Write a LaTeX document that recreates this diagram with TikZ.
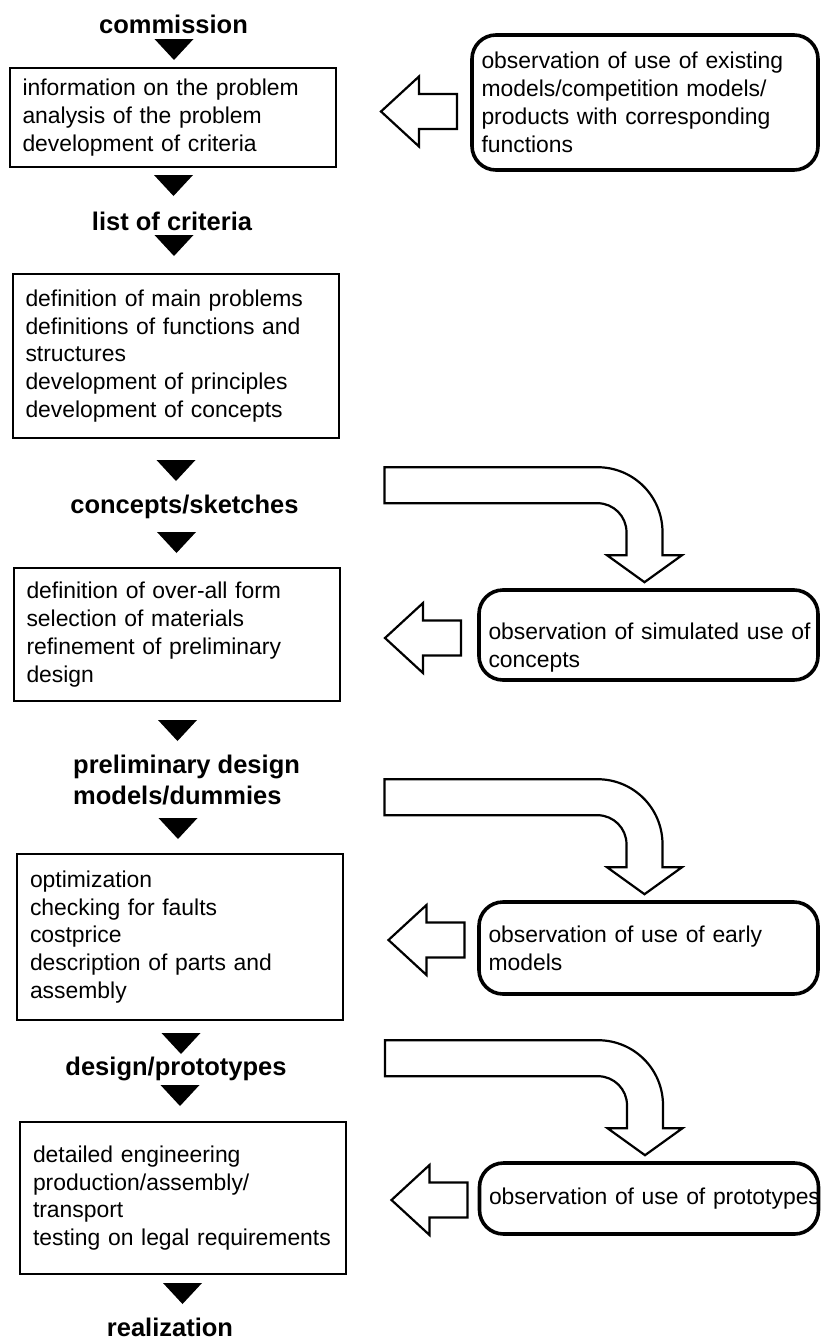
\documentclass[tikz,border=0pt]{standalone}
\usepackage{fontspec}
\setmainfont{Liberation Sans}
\usetikzlibrary{calc}

\begin{document}
\begin{tikzpicture}[x=1pt, y=-1pt,
    fcStage/.style={draw, line width=2pt, rectangle, align=left, inner xsep=13pt, text width=300pt, font=\fontsize{22.9}{27.8}\selectfont},
    fcObs/.style={draw, line width=3.6pt, rectangle, rounded corners=24pt, align=left, inner xsep=9.5pt, text width=320pt, font=\fontsize{22.9}{27.8}\selectfont},
    fcLabel/.style={font=\fontsize{25.5}{31}\selectfont\bfseries, inner sep=0pt},
    fcBlock/.style={draw, line width=2.2pt, line join=miter},
]
\useasboundingbox[fill=white] (0,0) rectangle (822,1341);

\node[fcLabel, anchor=base] (commission) at (173.5,33) {commission};
\node[fcStage, minimum height=99pt] (box1) at (172.5,117.5) {information on the problem\\analysis of the problem\\development of criteria};
\node[fcLabel, anchor=base] (criteria) at (172,230) {list of criteria};
\node[fcStage, minimum height=164pt] (box2) at (175.5,356) {definition of main problems\\definitions of functions and\\structures\\development of principles\\development of concepts};
\node[fcLabel, anchor=base] (concepts) at (184.5,513) {concepts/sketches};
\node[fcStage, minimum height=133pt] (box3) at (176.5,634.5) {definition of over-all form\\selection of materials\\refinement of preliminary\\design};
\node[fcLabel, anchor=base west, align=left] (prelim) at (73,804) {preliminary design\\models/dummies};
\node[fcStage, minimum height=166pt] (box4) at (180,937) {optimization\\checking for faults\\costprice\\description of parts and\\assembly};
\node[fcLabel, anchor=base] (design) at (176,1075) {design/prototypes};
\node[fcStage, minimum height=152pt] (box5) at (183,1198) {detailed engineering\\production/assembly/\\transport\\testing on legal requirements};
\node[fcLabel, anchor=base] (realization) at (170,1336) {realization};

\node[fcObs, text width=327pt, minimum height=135pt] (obs1) at (645,102.5) {observation of use of existing\\models/competition models/\\products with corresponding\\functions};
\node[fcObs, minimum height=90pt, text height=42pt] (obs2) at (648.5,635) {\mbox{observation of simulated use of}\\concepts};
\node[fcObs, minimum height=92pt] (obs3) at (648.5,948) {observation of use of early\\models};
\node[fcObs, minimum height=71pt] (obs4) at (649,1198.5) {\mbox{observation of use of prototypes}};

\foreach \cx/\ty in {174/39, 173.5/175, 174/235, 176/460, 176.5/532, 177.5/720, 178/818, 181/1033, 180/1085, 182.5/1283}
  \fill (\cx-19.5,\ty) -- (\cx+19.5,\ty) -- (\cx,\ty+21) -- cycle;

\foreach \dst/\dy in {box1/-6, box3/3.5, box4/3, box5/2}
  \draw[fcBlock, shift={($(\dst.east)+(44.5,\dy)$)}] (0,0) -- (38,-35) -- (38,-17.5) -- (76,-17.5) -- (76,17.5) -- (38,17.5) -- (38,35) -- cycle;

\foreach \obs in {obs2, obs3, obs4}
  \draw[fcBlock, shift={($(\obs.north)+(-4,-6)$)}] (-260,-115) -- (-47,-115) .. controls (-11,-115) and (18,-86) .. (18,-50) -- (18,-27) -- (37.5,-27) -- (0,0) -- (-37.5,-27) -- (-18,-27) -- (-18,-50) .. controls (-18,-66) and (-31,-79) .. (-47,-79) -- (-260,-79) -- cycle;
\end{tikzpicture}
\end{document}
